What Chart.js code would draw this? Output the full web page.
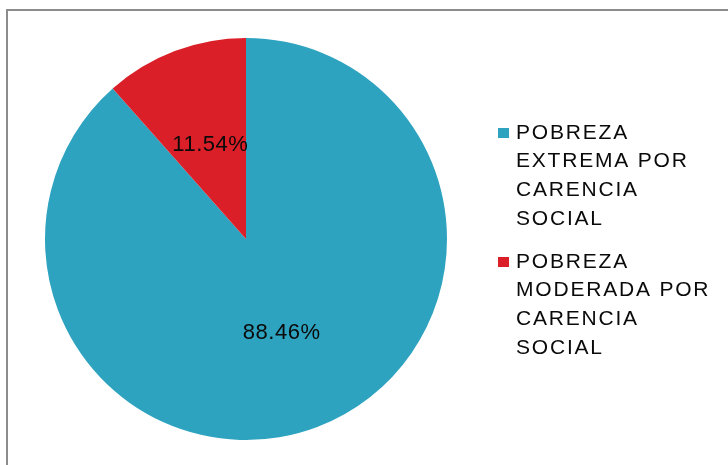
<!DOCTYPE html>
<html>
<head>
<meta charset="utf-8">
<script src="https://cdn.jsdelivr.net/npm/chart.js@4/dist/chart.umd.min.js"></script>
<style>
html,body{margin:0;padding:0;background:#fff;}
#wrap{width:728px;height:465px;position:relative;}
</style>
</head>
<body>
<div id="wrap"><canvas id="c" width="728" height="465"></canvas></div>
<script>
const categories = [
  ["POBREZA", "EXTREMA POR", "CARENCIA", "SOCIAL"],
  ["POBREZA", "MODERADA POR", "CARENCIA", "SOCIAL"]
];
const values = [88.46, 11.54];
const valueLabels = ["88.46%", "11.54%"];
const colors = ["#2EA3C0", "#DA1F28"];

const FONT = "'Liberation Sans', Arial, sans-serif";

const framePlugin = {
  id: 'frame',
  beforeDraw(chart) {
    const ctx = chart.ctx;
    ctx.save();
    ctx.fillStyle = '#fff';
    ctx.fillRect(0, 0, chart.width, chart.height);
    ctx.strokeStyle = '#8c8c8c';
    ctx.lineWidth = 2;
    ctx.beginPath();
    ctx.moveTo(7, chart.height);
    ctx.lineTo(7, 10);
    ctx.lineTo(chart.width, 10);
    ctx.stroke();
    ctx.restore();
  }
};

const labelPlugin = {
  id: 'sliceLabels',
  afterDatasetsDraw(chart) {
    const ctx = chart.ctx;
    const meta = chart.getDatasetMeta(0);
    ctx.save();
    ctx.fillStyle = '#0a0a0a';
    ctx.font = '22px ' + FONT;
    if ('letterSpacing' in ctx) ctx.letterSpacing = '0.5px';
    ctx.textAlign = 'center';
    ctx.textBaseline = 'middle';
    meta.data.forEach((arc, i) => {
      const p = arc.tooltipPosition();
      ctx.fillText(valueLabels[i], p.x, p.y);
    });
    ctx.restore();
  }
};

const legendPlugin = {
  id: 'customLegend',
  afterDraw(chart) {
    const ctx = chart.ctx;
    ctx.save();
    ctx.font = '21px ' + FONT;
    if ('letterSpacing' in ctx) ctx.letterSpacing = '1.8px';
    ctx.textBaseline = 'middle';
    ctx.textAlign = 'left';
    const x0 = 498, tx = 516, lineH = 28.7;
    const starts = [133, 262];
    categories.forEach((lines, i) => {
      const y = starts[i];
      ctx.fillStyle = colors[i];
      ctx.fillRect(x0, y - 5, 11, 10);
      ctx.fillStyle = '#0a0a0a';
      lines.forEach((ln, j) => ctx.fillText(ln, tx, y + j * lineH));
    });
    ctx.restore();
  }
};

new Chart(document.getElementById('c'), {
  type: 'pie',
  data: {
    labels: categories.map(l => l.join(' ')),
    datasets: [{
      data: values,
      backgroundColor: colors,
      borderWidth: 0
    }]
  },
  options: {
    responsive: false,
    animation: false,
    layout: { padding: { left: 45, right: 281, top: 38, bottom: 25 } },
    plugins: {
      legend: { display: false },
      tooltip: { enabled: false }
    }
  },
  plugins: [framePlugin, labelPlugin, legendPlugin]
});
</script>
</body>
</html>
